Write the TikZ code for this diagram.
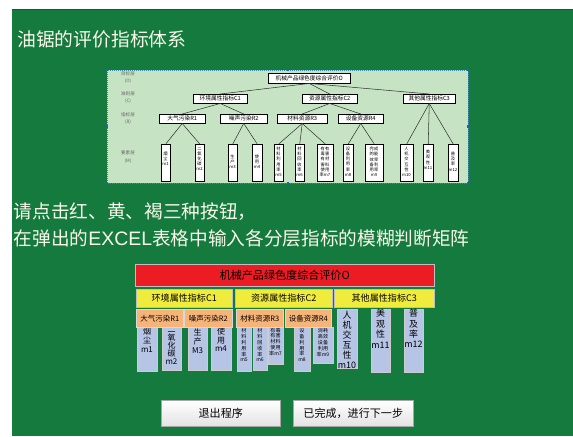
\documentclass[tikz,border=0pt]{standalone}
\usepackage{fontspec}
\setmainfont{Noto Sans CJK SC}
\newfontfamily\latinsans{Liberation Sans}
\usetikzlibrary{shadows}
\definecolor{bggreen}{RGB}{20,122,62}
\definecolor{imggreen}{RGB}{198,228,196}
\definecolor{redbar}{RGB}{236,28,36}
\definecolor{yel}{RGB}{240,236,62}
\definecolor{org}{RGB}{246,180,120}
\definecolor{blu}{RGB}{182,196,230}
\definecolor{handle}{RGB}{40,90,200}
\definecolor{dotc}{RGB}{70,140,160}
\definecolor{cream}{RGB}{250,248,235}
\newcommand\mkbox[7]{\node[#1, anchor=north west, inner sep=0pt, minimum width={(#5-#3)*0.75pt}, minimum height={(#6-#4)*0.75pt}] (#2) at (#3,#4) {#7};}
\newcommand\bluebox[8]{%
  \mkbox{mb}{#1}{#2}{#3}{#4}{#5}{}
  \node[anchor=north, inner sep=0pt, align=center, font=#7] (#1t) at ({(#2+#4)/2},#6) {#8};}
\newcommand\treem[5]{%
  \mkbox{tm}{#1}{#2}{144}{#3}{181}{}
  \node[anchor=north, inner sep=0pt, align=center, font=\fontsize{3.2}{3.8}\selectfont] (#1t) at ({(#2+#3)/2},#4) {#5};}
\tikzset{
  x=0.75pt, y=-0.75pt,
  mb/.style={draw=gray!40, fill=blu},
  ob/.style={draw=gray!30, fill=org, font=\fontsize{5.6}{6}\selectfont},
  yb/.style={draw=gray!50, fill=yel, font=\fontsize{6.8}{7}\selectfont},
  rb/.style={draw=gray!50, fill=redbar, font=\fontsize{8.3}{9}\selectfont},
  tn/.style={draw=black, line width=0.35pt, fill=white, font=\fontsize{4.3}{4.6}\selectfont},
  tm/.style={draw=black, line width=0.35pt, fill=white, general shadow={fill=black, shadow xshift=0.5pt, shadow yshift=-0.5pt}},
  tl/.style={line width=0.4pt, black!80},
  lab/.style={text=gray!80!black, font=\fontsize{3.4}{4}\selectfont, inner sep=0pt},
  hd/.style={fill=handle, minimum size=2.2pt, inner sep=0pt},
  btn/.style={draw=gray!70, top color=white, bottom color=gray!22, font=\fontsize{8.3}{9}\selectfont},
  wt/.style={text=cream, anchor=west, inner sep=0pt},
}
\begin{document}
\begin{tikzpicture}
\useasboundingbox (0,0) rectangle (573,436);
\fill[white] (0,0) rectangle (573,436);
\fill[bggreen] (12,9) rectangle (573,436);
\draw[black!75, line width=0.8pt] (12,9.5) -- (573,9.5);

% title
\node[wt, font=\fontsize{14.1}{16}\selectfont] (title) at (17,39.5) {油锯的评价指标体系};

% embedded picture
\fill[imggreen] (107,70) rectangle (468,183);
\draw[dotc, densely dotted, line width=0.5pt] (107,70) rectangle (468,183);
\node[lab] (l1) at (128,74) {目标层};
\node[lab] (l1b) at (128,81) {(O)};
\node[lab] (l2) at (128,94) {准则层};
\node[lab] (l2b) at (128,101) {(C)};
\node[lab] (l3) at (128,115) {指标层};
\node[lab] (l3b) at (128,122) {(R)};
\node[lab] (l4) at (128,153) {要素层};
\node[lab] (l4b) at (128,161) {(M)};

\mkbox{tn}{tO}{268}{73}{350}{83}{机械产品绿色度综合评价O}
\mkbox{tn}{tC1}{193}{94}{247}{103}{环境属性指标C1}
\mkbox{tn}{tC2}{302}{94}{357}{103}{资源属性指标C2}
\mkbox{tn}{tC3}{403}{94}{455}{103}{其他属性指标C3}
\mkbox{tn}{tR1}{159}{114}{205}{123}{大气污染R1}
\mkbox{tn}{tR2}{220}{114}{267}{123}{噪声污染R2}
\mkbox{tn}{tR3}{277}{114}{327}{123}{材料资源R3}
\mkbox{tn}{tR4}{338}{114}{383}{123}{设备资源R4}
\treem{tm1}{161}{170}{152}{烟\\尘\\m1}
\treem{tm2}{195}{204}{147}{二\\氧\\化\\碳\\m2}
\treem{tm3}{228}{237}{155}{生\\产\\m3}
\treem{tm4}{252}{262}{155}{使\\用\\m4}
\treem{tm5}{274}{283}{147}{材\\料\\利\\用\\率\\m5}
\treem{tm6}{295}{304}{147}{材\\料\\回\\收\\率\\m6}
\treem{tm7}{317}{333}{147}{有有\\毒害\\有材\\害料\\使用\\率m7}
\treem{tm8}{343}{353}{147}{设\\备\\利\\用\\率\\m8}
\treem{tm9}{365}{383}{147}{完成\\的能\\效率\\备利\\用率\\m9}
\treem{tm10}{400}{413}{147}{人\\机\\交\\互\\性\\m10}
\treem{tm11}{423}{433}{150}{美\\观\\性\\m11}
\treem{tm12}{448}{458}{152}{普\\及\\率\\m12}
\foreach \c in {tC1,tC2,tC3} \draw[tl] (tO.south) -- (\c.north);
\foreach \c in {tR1,tR2} \draw[tl] (tC1.south) -- (\c.north);
\foreach \c in {tR3,tR4} \draw[tl] (tC2.south) -- (\c.north);
\foreach \c in {tm10,tm11,tm12} \draw[tl] (tC3.south) -- (\c.north);
\foreach \c in {tm1,tm2} \draw[tl] (tR1.south) -- (\c.north);
\foreach \c in {tm3,tm4} \draw[tl] (tR2.south) -- (\c.north);
\foreach \c in {tm5,tm6,tm7} \draw[tl] (tR3.south) -- (\c.north);
\foreach \c in {tm8,tm9} \draw[tl] (tR4.south) -- (\c.north);
\foreach \p [count=\i] in {(107,70),(288,70),(468,70),(107,126.5),(468,126.5),(107,183),(288,183),(468,183)}
  \node[hd] (h\i) at \p {};

% instructions
\node[wt, font=\fontsize{14}{16}\selectfont] (ins1) at (13.5,212) {请点击红、黄、褐三种按钮，};
\node[wt, font=\fontsize{14}{16}\selectfont] (ins2) at (13.5,238.5) {在弹出的{\latinsans\fontsize{14.6}{16}\selectfont EXCEL}表格中输入各分层指标的模糊判断矩阵};

% lower diagram
\mkbox{rb}{O}{135}{264}{434}{286}{机械产品绿色度综合评价O}
\mkbox{yb}{C1}{136}{289}{232}{307}{环境属性指标C1}
\mkbox{yb}{C2}{235}{289}{332}{307}{资源属性指标C2}
\mkbox{yb}{C3}{334}{289}{434}{307}{其他属性指标C3}
\bluebox{m1}{137}{327}{157}{371}{328}{\fontsize{6}{6.4}\selectfont}{烟\\尘\\m1}
\bluebox{m2}{162}{327}{181}{370}{326.5}{\fontsize{6}{6}\selectfont}{二\\氧\\化\\碳\\m2}
\bluebox{m3}{188}{327}{207}{370}{329}{\fontsize{6}{6.4}\selectfont}{生\\产\\M3}
\bluebox{m4}{211}{327}{231}{370}{327.5}{\fontsize{6}{6.4}\selectfont}{使\\用\\m4}
\bluebox{m5}{237}{327}{251}{371}{328}{\fontsize{3.8}{4.4}\selectfont}{材\\料\\利\\用\\率\\m5}
\bluebox{m6}{253}{327}{267}{370}{328}{\fontsize{3.8}{4.4}\selectfont}{材\\料\\回\\收\\率\\m6}
\bluebox{m7}{268}{327}{283}{364}{327.5}{\fontsize{3.8}{4.4}\selectfont}{有毒\\有害\\材料\\使用\\率m7}
\bluebox{m8}{294}{327}{310}{371}{328}{\fontsize{3.8}{4.4}\selectfont}{设\\备\\利\\用\\率\\m8}
\bluebox{m9}{313}{327}{333}{363}{328}{\fontsize{3.8}{4.4}\selectfont}{消耗\\高效\\设备\\利用\\率m9}
\bluebox{m10}{337}{309}{357}{368}{311}{\fontsize{6.7}{7.4}\selectfont}{人\\机\\交\\互\\性\\m10}
\bluebox{m11}{371}{309}{390}{372}{309}{\fontsize{6.7}{7.8}\selectfont}{美\\观\\性\\m11}
\bluebox{m12}{404}{309}{423}{372}{309}{\fontsize{6.7}{7.8}\selectfont}{普\\及\\率\\m12}
\mkbox{ob}{R1}{136}{309}{183}{327}{大气污染R1}
\mkbox{ob}{R2}{184}{309}{232}{327}{噪声污染R2}
\mkbox{ob}{R3}{236}{309}{283}{327}{材料资源R3}
\mkbox{ob}{R4}{285}{309}{331}{327}{设备资源R4}

% buttons
\mkbox{btn}{b1}{161}{400}{280}{426}{退出程序}
\mkbox{btn}{b2}{293}{400}{413}{426}{已完成，进行下一步}
\end{tikzpicture}
\end{document}
